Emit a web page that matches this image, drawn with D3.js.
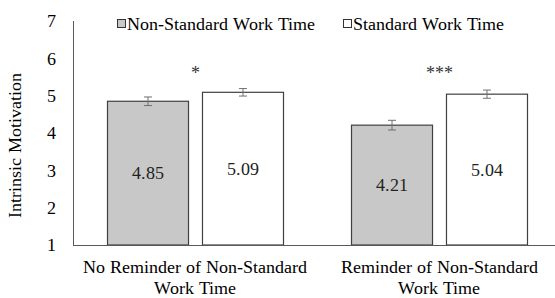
<!DOCTYPE html>
<html><head><meta charset="utf-8">
<script src="https://cdn.jsdelivr.net/npm/d3@7"></script>
<style>
@font-face{font-family:"ChartSerif";src:local("Liberation Serif"),local("LiberationSerif"),local("Times New Roman"),local("Tinos");}
body{margin:0;background:#fff}
svg text{font-family:"ChartSerif","Liberation Serif","Times New Roman",Tinos,FreeSerif;font-size:18px}
</style>
</head><body>
<script>
const categories = ["No Reminder of Non-Standard|Work Time", "Reminder of Non-Standard|Work Time"];
const seriesNames = ["Non-Standard Work Time", "Standard Work Time"];
const nonStandard = [4.85, 4.21];
const standard = [5.09, 5.04];
const nonStandardErr = [0.115, 0.13];
const standardErr = [0.1, 0.11];
const significance = ["*", "***"];
const yTicks = [1, 2, 3, 4, 5, 6, 7];

const W = 555, H = 298;
const svg = d3.select("body").append("svg").attr("width", W).attr("height", H);

const y = d3.scaleLinear().domain([1, 7]).range([245, 21]);
const x0 = d3.scaleBand().domain(categories).range([73, 561]);
const x1 = d3.scaleBand().domain(seriesNames).range([0, 176]).paddingInner(0.147);
const fills = ["#c8c8c8", "#ffffff"];

svg.append("line").attr("x1", 73.5).attr("x2", 73.5).attr("y1", 21).attr("y2", y(1))
  .attr("stroke", "#595959").attr("stroke-width", 1);

svg.selectAll(".yt").data(yTicks).enter().append("text")
  .attr("x", 56).attr("y", d => y(d)).attr("dy", "0.35em").attr("text-anchor", "end")
  .attr("fill", "#000").text(d => d);

const data = categories.map((c, i) => ({c, vals: [
  {s: seriesNames[0], v: nonStandard[i], e: nonStandardErr[i], f: fills[0]},
  {s: seriesNames[1], v: standard[i], e: standardErr[i], f: fills[1]}
], sig: significance[i]}));

const g = svg.selectAll(".grp").data(data).enter().append("g")
  .attr("transform", d => `translate(${x0(d.c) + (x0.bandwidth() - 176) / 2},0)`);

g.selectAll("rect").data(d => d.vals).enter().append("rect")
  .attr("x", d => x1(d.s) + 0.5).attr("width", x1.bandwidth())
  .attr("y", d => y(d.v)).attr("height", d => y(1) - y(d.v))
  .attr("fill", d => d.f).attr("stroke", "#404040").attr("stroke-width", 1.2);

g.selectAll(".vl").data(d => d.vals).enter().append("text")
  .attr("x", d => x1(d.s) + x1.bandwidth() / 2 + 0.5)
  .attr("y", d => (y(d.v) + y(1)) / 2).attr("dy", "0.35em").attr("text-anchor", "middle")
  .attr("fill", "#222").text(d => d.v.toFixed(2));

const cx = d => x1(d.s) + x1.bandwidth() / 2 + 0.5;
const eb = g.selectAll(".eb").data(d => d.vals).enter().append("g")
  .attr("stroke", "#707070").attr("stroke-width", 1);
eb.append("line").attr("x1", cx).attr("x2", cx)
  .attr("y1", d => y(d.v + d.e)).attr("y2", d => y(d.v - d.e));
eb.append("line").attr("x1", d => cx(d) - 4).attr("x2", d => cx(d) + 4)
  .attr("y1", d => y(d.v + d.e)).attr("y2", d => y(d.v + d.e));
eb.append("line").attr("x1", d => cx(d) - 4).attr("x2", d => cx(d) + 4)
  .attr("y1", d => y(d.v - d.e)).attr("y2", d => y(d.v - d.e));

g.append("text").attr("x", 88).attr("y", 78).attr("text-anchor", "middle")
  .attr("fill", "#333").text(d => d.sig);

svg.append("line").attr("x1", 73).attr("x2", 555).attr("y1", y(1) + 0.5).attr("y2", y(1) + 0.5)
  .attr("stroke", "#595959").attr("stroke-width", 1.2);

svg.selectAll(".cl").data(categories).enter().append("text")
  .attr("x", d => x0(d) + x0.bandwidth() / 2).attr("y", 273)
  .attr("text-anchor", "middle").attr("fill", "#000")
  .each(function(d) {
    const parts = d.split("|");
    d3.select(this).selectAll("tspan").data(parts).enter().append("tspan")
      .attr("x", x0(d) + x0.bandwidth() / 2).attr("dy", (p, i) => i === 0 ? 0 : 21).text(p => p);
  });

svg.append("text").attr("transform", "translate(21,145) rotate(-90)")
  .attr("text-anchor", "middle").attr("fill", "#000")
  .text("Intrinsic Motivation");

const legX = [117, 343];
const leg = svg.selectAll(".lg").data(seriesNames).enter().append("g")
  .attr("transform", (d, i) => `translate(${legX[i]},0)`);
leg.append("rect").attr("x", 0.5).attr("y", 19.5).attr("width", 8).attr("height", 8)
  .attr("fill", (d, i) => fills[i]).attr("stroke", "#333").attr("stroke-width", 1);
leg.append("text").attr("x", 10).attr("y", 24).attr("dy", "0.35em")
  .attr("fill", "#000").text(d => d);
</script>
</body></html>
